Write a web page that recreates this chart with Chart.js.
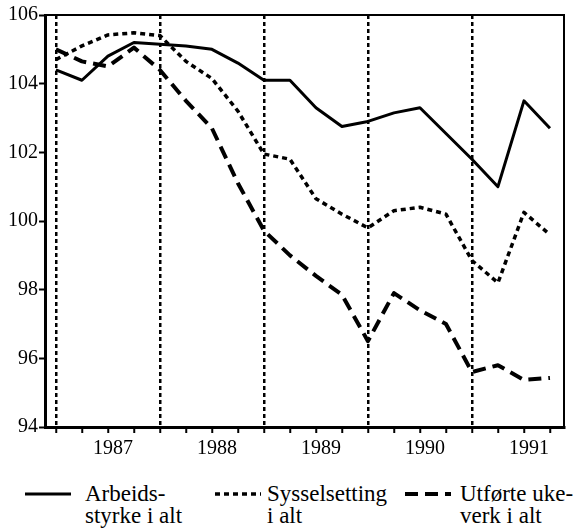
<!DOCTYPE html>
<html>
<head>
<meta charset="utf-8">
<script src="https://cdn.jsdelivr.net/npm/chart.js@4/dist/chart.umd.min.js"></script>
<style>
  body { margin: 0; background: #fff; }
  #wrap { position: relative; width: 577px; height: 530px; }
  #chart-box { position: absolute; left: 0; top: 0; width: 577px; height: 470px; }
  .legend-text { position: absolute; font-family: "Liberation Serif", "Times New Roman", Times, "DejaVu Serif", serif; font-size: 23px; line-height: 22px; color: #000; white-space: nowrap; }
  .legend-line { position: absolute; }
</style>
</head>
<body>
<div id="wrap">
  <div id="chart-box"><canvas id="chart"></canvas></div>
  <div id="legend"></div>
</div>
<script>
// quarters from 1986 K4 to 1991 K3
const quarters = ['1986K4', '1987K1', '1987K2', '1987K3', '1987K4', '1988K1', '1988K2', '1988K3', '1988K4',
    '1989K1', '1989K2', '1989K3', '1989K4', '1990K1', '1990K2', '1990K3', '1990K4', '1991K1', '1991K2', '1991K3'];

const arbeidsstyrke = [104.4, 104.1, 104.8, 105.2, 105.15, 105.1, 105.0, 104.6, 104.1, 104.1,
    103.3, 102.75, 102.9, 103.15, 103.3, 102.55, 101.8, 101.0, 103.5, 102.7];
const sysselsetting = [104.7, 105.1, 105.42, 105.48, 105.4, 104.65, 104.15, 103.2, 101.95, 101.8,
    100.65, 100.2, 99.8, 100.3, 100.4, 100.2, 98.85, 98.2, 100.25, 99.6];
const ukeverk = [105.0, 104.65, 104.5, 105.05, 104.4, 103.5, 102.7, 101.1, 99.72, 99.0,
    98.4, 97.85, 96.5, 97.9, 97.4, 97.0, 95.6, 95.8, 95.37, 95.43];

const years = ['1987', '1988', '1989', '1990', '1991'];
const yearTicks = [2, 6, 10, 14, 18];
const dividers = [0, 4, 8, 12, 16];
const yTicks = [94, 96, 98, 100, 102, 104, 106];

const seriesNames = [['Arbeids-', 'styrke i alt'], ['Sysselsetting', 'i alt'], ['Utførte uke-', 'verk i alt']];
const seriesData = [arbeidsstyrke, sysselsetting, ukeverk];
const seriesDash = [[], [5, 4], [13, 7]];
const seriesWidth = [3, 3.5, 4];

Chart.defaults.font.family = '"Liberation Serif", "Times New Roman", Times, "DejaVu Serif", serif';
Chart.defaults.color = '#000';

const framePlugin = {
    id: 'frame',
    afterDraw(chart) {
        const { ctx, chartArea } = chart;
        ctx.save();
        ctx.strokeStyle = '#000';
        ctx.lineWidth = 2;
        ctx.beginPath();
        ctx.moveTo(chartArea.left, chartArea.top);
        ctx.lineTo(chartArea.right, chartArea.top);
        ctx.lineTo(chartArea.right, chartArea.bottom);
        ctx.stroke();
        ctx.restore();
    }
};

const datasets = seriesData.map((values, i) => ({
    label: seriesNames[i].join(' '),
    data: values.map((v, k) => ({ x: k, y: v })),
    borderColor: '#000',
    borderWidth: seriesWidth[i],
    borderDash: seriesDash[i],
    borderCapStyle: 'butt',
    borderJoinStyle: 'round',
    pointRadius: 0,
    tension: 0,
    fill: false
}));

new Chart(document.getElementById('chart'), {
    type: 'line',
    data: { datasets: datasets },
    options: {
        responsive: true,
        maintainAspectRatio: false,
        animation: false,
        layout: { padding: { top: 15, right: 13, left: 0, bottom: 0 } },
        plugins: { legend: { display: false }, tooltip: { enabled: false } },
        scales: {
            x: {
                type: 'linear',
                min: -0.42,
                max: 19.54,
                afterBuildTicks: axis => { axis.ticks = quarters.map((q, i) => ({ value: i })); },
                afterFit: axis => { axis.height = 43; },
                ticks: {
                    autoSkip: false,
                    maxRotation: 0,
                    labelOffset: 5,
                    padding: 4,
                    font: { size: 20 },
                    callback: (v) => {
                        const i = yearTicks.indexOf(v);
                        return i >= 0 ? years[i] : '';
                    }
                },
                grid: {
                    color: c => (c.tick && dividers.includes(c.tick.value)) ? '#000' : 'rgba(0,0,0,0)',
                    lineWidth: 2.5,
                    tickColor: '#000',
                    tickLength: 6,
                    tickWidth: 2
                },
                border: { color: '#000', width: 3, dash: [4, 3] }
            },
            y: {
                min: 94,
                max: 106,
                afterBuildTicks: axis => { axis.ticks = yTicks.map(v => ({ value: v })); },
                afterFit: axis => { axis.width = 45; },
                ticks: { padding: 1, font: { size: 20 } },
                grid: { drawOnChartArea: false, tickLength: 6, tickColor: '#000', tickWidth: 2 },
                border: { color: '#000', width: 3 }
            }
        }
    },
    plugins: [framePlugin]
});

// legend below the chart
const legendPos = [
    { lineX: 25, textX: 85 },
    { lineX: 215, textX: 267 },
    { lineX: 405, textX: 460 }
];
const legend = document.getElementById('legend');
seriesNames.forEach((name, i) => {
    const svg = document.createElementNS('http://www.w3.org/2000/svg', 'svg');
    svg.setAttribute('class', 'legend-line');
    svg.setAttribute('width', 47);
    svg.setAttribute('height', 10);
    svg.style.left = legendPos[i].lineX + 'px';
    svg.style.top = '489px';
    const ln = document.createElementNS('http://www.w3.org/2000/svg', 'line');
    ln.setAttribute('x1', 0);
    ln.setAttribute('x2', 46);
    ln.setAttribute('y1', 5);
    ln.setAttribute('y2', 5);
    ln.setAttribute('stroke', '#000');
    ln.setAttribute('stroke-width', seriesWidth[i]);
    if (seriesDash[i].length) ln.setAttribute('stroke-dasharray', seriesDash[i].join(' '));
    svg.appendChild(ln);
    legend.appendChild(svg);

    const txt = document.createElement('div');
    txt.className = 'legend-text';
    txt.style.left = legendPos[i].textX + 'px';
    txt.style.top = '483px';
    txt.innerHTML = name.join('<br>');
    legend.appendChild(txt);
});
</script>
</body>
</html>
